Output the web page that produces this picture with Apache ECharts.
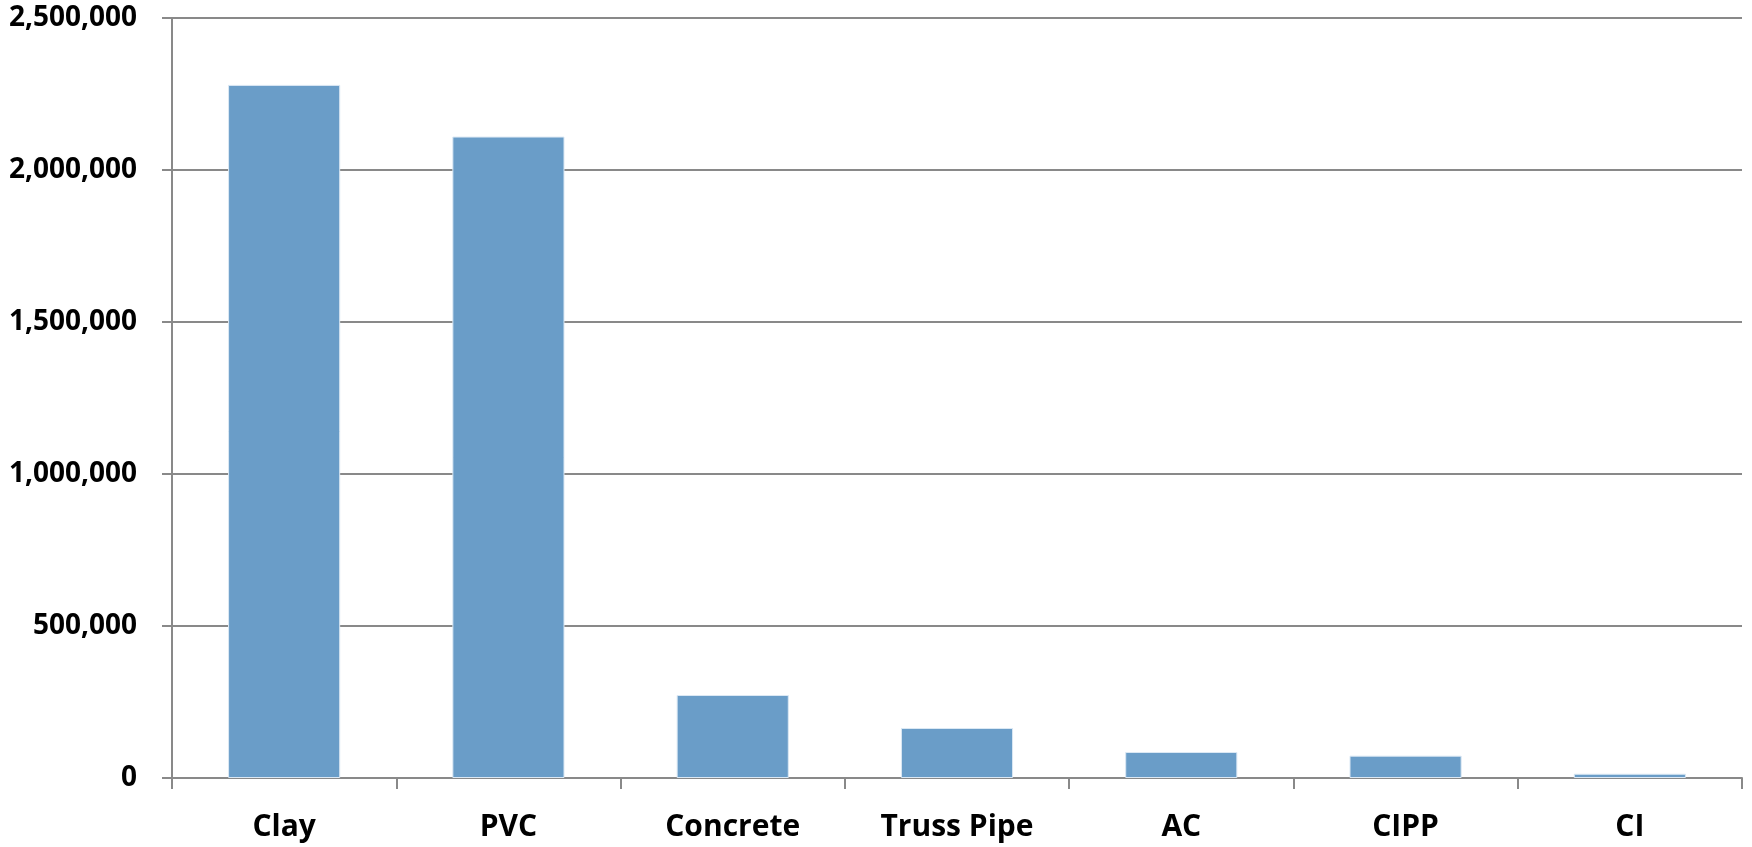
<!DOCTYPE html>
<html>
<head>
<meta charset="utf-8">
<script src="https://cdn.jsdelivr.net/npm/echarts@6/dist/echarts.min.js"></script>
<style>
  html, body { margin: 0; padding: 0; background: #ffffff; }
  #chart { width: 1752px; height: 847px; }
</style>
</head>
<body>
<div id="chart"></div>
<script>
const categories = ['Clay', 'PVC', 'Concrete', 'Truss Pipe', 'AC', 'CIPP', 'CI'];
const values = [2280000, 2110000, 273000, 164500, 85500, 73400, 14000];
const yTicks = { min: 0, max: 2500000, interval: 500000 };

const chart = echarts.init(document.getElementById('chart'), null, { renderer: 'canvas' });
const gray = '#898989';
chart.setOption({
  animation: false,
  backgroundColor: '#ffffff',
  grid: { left: 172, right: 10, top: 18, bottom: 69, containLabel: false },
  xAxis: {
    type: 'category',
    data: categories,
    axisLine: { show: true, lineStyle: { color: gray, width: 2 } },
    axisTick: { show: true, alignWithLabel: false, length: 11, lineStyle: { color: gray, width: 2 } },
    axisLabel: {
      margin: 34,
      color: '#000000',
      fontFamily: 'Open Sans',
      fontWeight: 'bold',
      fontSize: 30
    },
    splitLine: { show: false }
  },
  yAxis: {
    type: 'value',
    min: yTicks.min,
    max: yTicks.max,
    interval: yTicks.interval,
    axisLine: { show: true, lineStyle: { color: gray, width: 2 } },
    axisTick: { show: true, length: 10, lineStyle: { color: gray, width: 2 } },
    axisLabel: {
      margin: 35,
      color: '#000000',
      fontFamily: 'Open Sans',
      fontWeight: 'bold',
      fontSize: 28,
      formatter: v => v.toLocaleString('en-US')
    },
    splitLine: { show: true, lineStyle: { color: gray, width: 2 } }
  },
  series: [{
    type: 'bar',
    data: values,
    barWidth: '50%',
    itemStyle: { color: '#6a9dc8', borderColor: '#dbe8f4', borderWidth: 1 }
  }]
});
</script>
</body>
</html>
